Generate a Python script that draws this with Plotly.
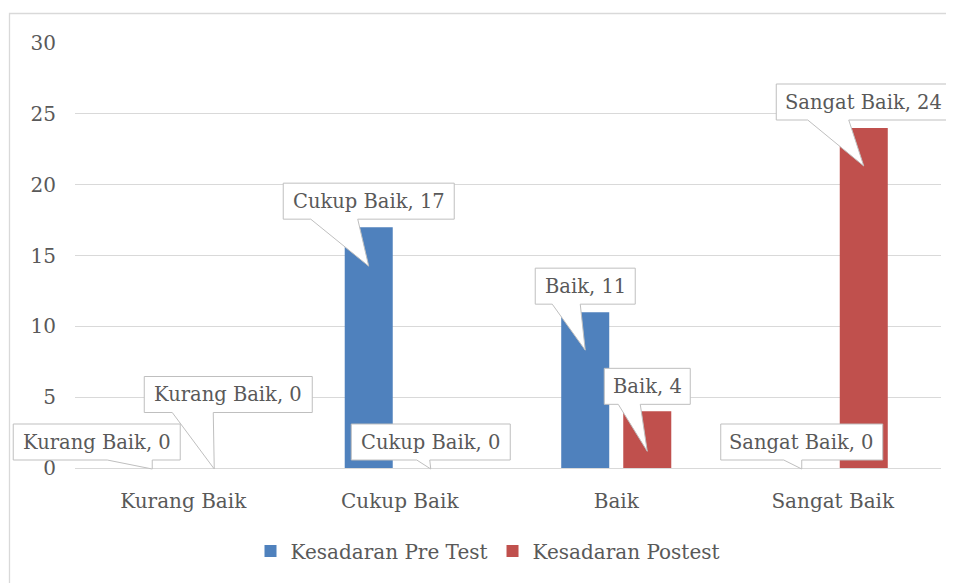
import plotly.graph_objects as go

# ---------------- data ----------------
categories = ["Kurang Baik", "Cukup Baik", "Baik", "Sangat Baik"]
pre_test = [0, 17, 11, 0]
postest = [0, 0, 4, 24]
series_names = ["Kesadaran Pre Test", "Kesadaran Postest"]
y_ticks = [0, 5, 10, 15, 20, 25, 30]

# ---------------- style ----------------
FONT = "DejaVu Serif"
TXT = "#595959"
GRID = "#D9D9D9"
COLORS = ["#4F81BD", "#C0504D"]
BARGAP = 0.427
BARGROUPGAP = 0.226
X_RANGE = [-0.5, len(categories) - 0.5]
Y_RANGE = [0, 30]

# callout styles (pixels): box centre offset (dx, dy) from the anchor,
# box width, tip drop below anchor, wedge base (b1, b2) relative to anchor x
callout_style = {
    (0, 0): dict(dx=-55.5, dy=-26, w=167, tip=1, b1=-45, b2=0),
    (0, 1): dict(dx=0, dy=-26, w=171, tip=39, b1=-58, b2=-11),
    (0, 2): dict(dx=0, dy=-26, w=100, tip=38, b1=-33, b2=-5),
    (0, 3): dict(dx=0, dy=-26, w=162, tip=1, b1=-18, b2=0),
    (1, 0): dict(dx=14, dy=-73.5, w=168, tip=1, b1=-42, b2=-1),
    (1, 1): dict(dx=0, dy=-26, w=159, tip=1, b1=-14, b2=-1),
    (1, 2): dict(dx=0, dy=-25, w=86, tip=40, b1=-29, b2=-7),
    (1, 3): dict(dx=0, dy=-26, w=175, tip=38, b1=-56, b2=-15),
}
BOX_H = 36

W, H = 954, 583
OFF = 8  # page body margin
ML, MR, MT, MB = 75 - OFF, 954 - (941 - OFF), 43 - OFF, 583 - (468 - OFF)
plot_w = W - ML - MR
plot_h = H - MT - MB

fig = go.Figure()
for name, vals, col in zip(series_names, [pre_test, postest], COLORS):
    fig.add_trace(go.Bar(
        name=name, x=categories, y=vals,
        marker=dict(color=col, line=dict(width=0)),
        hoverinfo="skip",
    ))

slot = (1 - BARGAP) / 2
offsets = [-slot / 2, slot / 2]


def to_paper_x(v):
    return (v - X_RANGE[0]) / (X_RANGE[1] - X_RANGE[0])


def to_paper_y(v):
    return (v - Y_RANGE[0]) / (Y_RANGE[1] - Y_RANGE[0])


shapes = []
annotations = []
for s, vals in enumerate([pre_test, postest]):
    for i, v in enumerate(vals):
        st = callout_style[(s, i)]
        xa = i + offsets[s]
        L = st["dx"] - st["w"] / 2
        R = st["dx"] + st["w"] / 2
        T = st["dy"] - BOX_H / 2
        B = st["dy"] + BOX_H / 2
        pts = [(L, T), (R, T), (R, B), (st["b2"], B), (0, st["tip"]),
               (st["b1"], B), (L, B)]
        path = "M " + " L ".join(f"{px},{-py}" for px, py in pts) + " Z"
        # paper-referenced so the callout is not clipped at the plot edge
        shapes.append(dict(
            type="path", xref="paper", yref="paper",
            xsizemode="pixel", ysizemode="pixel",
            xanchor=to_paper_x(xa), yanchor=to_paper_y(v), path=path,
            fillcolor="white", line=dict(color="#BFBFBF", width=1),
            layer="above",
        ))
        annotations.append(dict(
            x=xa, y=v, xref="x", yref="y",
            text=f"{categories[i]}, {v}",
            showarrow=False, xshift=st["dx"], yshift=-st["dy"],
            font=dict(family=FONT, size=19.5, color=TXT),
            xanchor="center", yanchor="middle",
        ))

# chart-area border (left and top visible)
shapes.append(dict(
    type="rect", xref="paper", yref="paper",
    x0=(9.5 - OFF - ML) / plot_w, x1=(W + 10 - ML) / plot_w,
    y0=-(MB + 10) / plot_h, y1=1 + (MT - (13.5 - OFF)) / plot_h,
    line=dict(color=GRID, width=1.3), fillcolor="rgba(0,0,0,0)",
    layer="below",
))

fig.update_layout(
    width=W, height=H,
    margin=dict(l=ML, r=MR, t=MT, b=MB, pad=0, autoexpand=False),
    paper_bgcolor="white", plot_bgcolor="white",
    barmode="group", bargap=BARGAP, bargroupgap=BARGROUPGAP,
    font=dict(family=FONT, size=20, color=TXT),
    shapes=shapes, annotations=annotations,
    showlegend=True,
    legend=dict(
        orientation="h", x=(488 - OFF - ML) / plot_w, xanchor="center",
        y=-(551 - 468) / plot_h, yanchor="middle",
        font=dict(family=FONT, size=20, color=TXT),
        itemwidth=30, traceorder="normal",
    ),
    xaxis=dict(
        type="category", range=X_RANGE, autorange=False,
        showgrid=False, showline=True,
        linecolor=GRID, linewidth=1.3, ticks="",
        tickfont=dict(family=FONT, size=20, color=TXT),
        ticklabelstandoff=15, fixedrange=True,
    ),
    yaxis=dict(
        range=Y_RANGE, autorange=False, tickvals=y_ticks, showgrid=True,
        gridcolor=GRID, gridwidth=1.3, zeroline=False, showline=False,
        ticks="", tickfont=dict(family=FONT, size=20, color=TXT),
        ticklabelstandoff=18, fixedrange=True,
    ),
)

fig.write_html("out.html", config={"displayModeBar": False})
